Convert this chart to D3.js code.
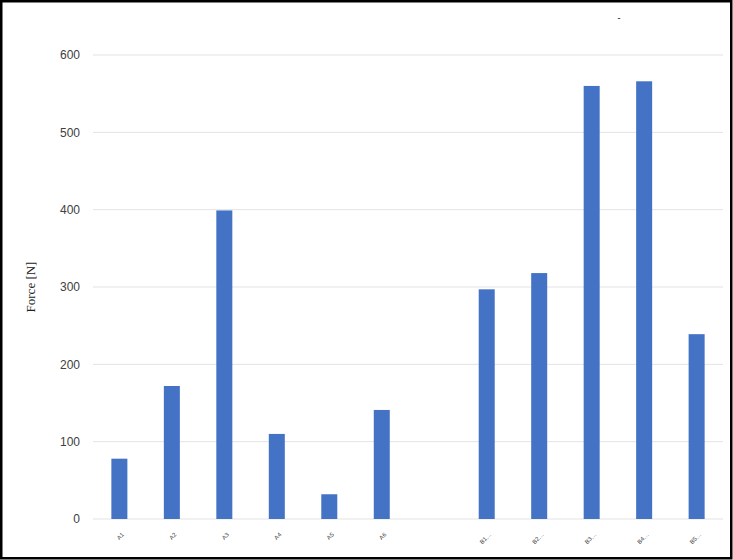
<!DOCTYPE html>
<html>
<head>
<meta charset="utf-8">
<script src="https://cdn.jsdelivr.net/npm/d3@7"></script>
<style>
  html, body { margin: 0; padding: 0; background: #fff; }
  #chart { width: 733px; height: 560px; }
</style>
</head>
<body>
<div id="chart"></div>
<script>
// categories (x labels are unreadable in the source, short stand-ins used)
const categories = ["A1", "A2", "A3", "A4", "A5", "A6", "", "B1\u2026", "B2\u2026", "B3\u2026", "B4\u2026", "B5\u2026"];
const forceValues = [78, 172, 399, 110, 32, 141, null, 297, 318, 560, 566, 239];
const yTicks = [0, 100, 200, 300, 400, 500, 600];

const W = 733, H = 560;
const margin = { top: 55, right: 10, bottom: 41, left: 93 };
const plotW = 723 - margin.left;
const plotH = 519 - margin.top;

const svg = d3.select("#chart").append("svg")
    .attr("width", W)
    .attr("height", H);

// outer frame
svg.append("rect")
    .attr("x", 1.25).attr("y", 1.25)
    .attr("width", W - 3).attr("height", H - 3)
    .attr("fill", "#fff")
    .attr("stroke", "#000")
    .attr("stroke-width", 2.5);

const g = svg.append("g")
    .attr("transform", `translate(${margin.left},${margin.top})`);

const x = d3.scaleBand()
    .domain(categories.map((c, i) => i))
    .range([0, plotW])
    .paddingInner(0.695)
    .paddingOuter(0.35);

const y = d3.scaleLinear()
    .domain([0, 600])
    .range([plotH, 0]);

// gridlines
g.append("g")
    .selectAll("line")
    .data(yTicks)
    .enter().append("line")
    .attr("x1", 0).attr("x2", plotW)
    .attr("y1", d => y(d)).attr("y2", d => y(d))
    .attr("stroke", "#e3e3e3")
    .attr("stroke-width", 1);

// y axis labels
const yAxis = d3.axisLeft(y).tickValues(yTicks).tickSize(0).tickPadding(13);
g.append("g")
    .call(yAxis)
    .call(s => s.select(".domain").remove())
    .selectAll("text")
    .attr("font-family", "Liberation Sans, Arial, sans-serif")
    .attr("font-size", 12)
    .attr("fill", "#404040");

// bars
g.selectAll(".bar")
    .data(forceValues.map((v, i) => ({ i, v })).filter(d => d.v != null))
    .enter().append("rect")
    .attr("class", "bar")
    .attr("x", d => x(d.i))
    .attr("width", x.bandwidth())
    .attr("y", d => y(d.v))
    .attr("height", d => plotH - y(d.v))
    .attr("fill", "#4472C4");

// x labels (tiny rotated, as in the source)
g.append("g")
    .selectAll("text")
    .data(categories)
    .enter().append("text")
    .attr("transform", (d, i) => `translate(${x(i) + x.bandwidth() / 2 + 5},${plotH + 16}) rotate(-45)`)
    .attr("text-anchor", "end")
    .attr("font-family", "Liberation Sans, Arial, sans-serif")
    .attr("font-size", 6)
    .attr("fill", "#404040")
    .text(d => d);

// y axis title
svg.append("text")
    .attr("transform", `translate(35,287) rotate(-90)`)
    .attr("text-anchor", "middle")
    .attr("font-family", "Liberation Serif, Times New Roman, serif")
    .attr("font-size", 13)
    .attr("fill", "#222")
    .text("Force [N]");

// small stray mark at the top
svg.append("text")
    .attr("x", 619).attr("y", 21)
    .attr("text-anchor", "middle")
    .attr("font-family", "Liberation Sans, Arial, sans-serif")
    .attr("font-size", 9)
    .attr("fill", "#000")
    .text("-");
</script>
</body>
</html>
